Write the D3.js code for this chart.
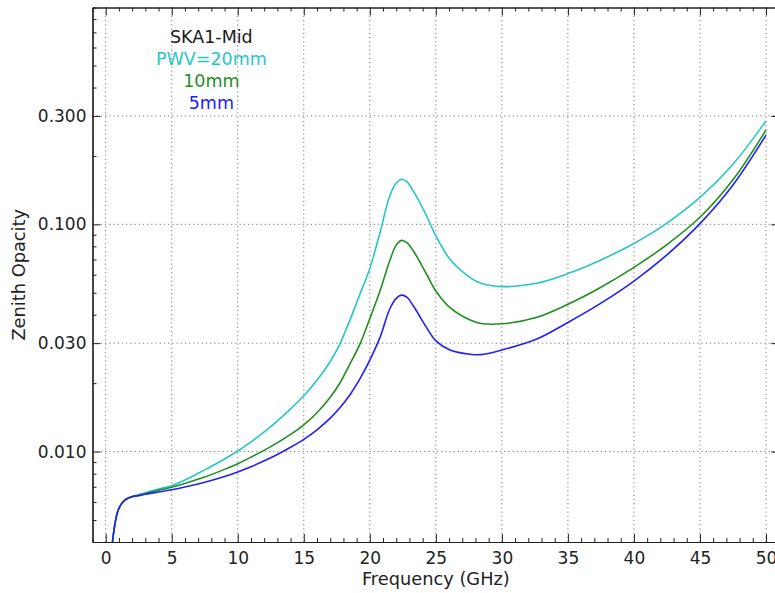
<!DOCTYPE html>
<html lang="en">
<head>
    <meta charset="utf-8">
    <title>Zenith Opacity</title>
    <script src="https://d3js.org/d3.v7.min.js"></script>
    <style>
        body { margin: 0; background: #fff; }
        text { font-family: "DejaVu Sans", sans-serif; }
    </style>
</head>
<body>
    <div id="my_dataviz"></div>
    <script>
        // frequency grid (GHz) shared by the three curves
        const freq = [0.45, 0.5, 0.6, 0.7, 0.85, 1.05, 1.3, 1.6, 2.1, 2.5, 3, 4, 5, 6, 7.5, 9, 10, 11, 12.5, 14, 15, 16, 17,
            17.7, 18.5, 19.26, 20, 20.77, 21.5, 22, 22.4, 22.8, 23.3, 24.3, 25, 26.07, 27.6, 28.4, 30, 32.6, 35,
            37.5, 40, 42.5, 45, 47.5, 50];

        // zenith opacity for PWV = 20, 10, 5 mm
        const pwv20 = [0.0030, 0.0039, 0.0044, 0.0048, 0.0053, 0.0057, 0.0060, 0.0062, 0.00637, 0.00646, 0.00659, 0.00684, 0.00708, 0.00749, 0.00831, 0.00928, 0.01006, 0.01103, 0.01288, 0.01542, 0.01762, 0.0206, 0.0249,
            0.0295, 0.0380, 0.0495, 0.0640, 0.0919, 0.1330, 0.1520, 0.1580, 0.1540, 0.1400, 0.1088, 0.0889, 0.0702, 0.0583, 0.0550, 0.0532, 0.0550, 0.0607,
            0.0697, 0.0824, 0.1013, 0.1313, 0.184, 0.285];
        const pwv10 = [0.0030, 0.0039, 0.0044, 0.0048, 0.0053, 0.0057, 0.0060, 0.0062, 0.00636, 0.00642, 0.00654, 0.00675, 0.00696, 0.00724, 0.00773, 0.00835, 0.00884, 0.00945, 0.01052, 0.01191, 0.01312, 0.01483, 0.01734,
            0.01988, 0.02434, 0.0298, 0.0385, 0.0509, 0.0690, 0.0810, 0.0850, 0.0830, 0.0763, 0.0603, 0.0509, 0.0430, 0.0379, 0.0366, 0.0365, 0.0389, 0.0445,
            0.0529, 0.0647, 0.0815, 0.1074, 0.157, 0.260];
        const pwv5 = [0.0030, 0.0039, 0.0044, 0.0048, 0.0053, 0.0057, 0.0060, 0.0062, 0.00635, 0.0064, 0.00649, 0.00664, 0.00679, 0.00698, 0.00733, 0.00777, 0.00814, 0.00858, 0.00939, 0.01045, 0.01132, 0.01247, 0.01403,
            0.0155, 0.0178, 0.02094, 0.02527, 0.0318, 0.0423, 0.0472, 0.0488, 0.0478, 0.0437, 0.0351, 0.0307, 0.0280, 0.0268, 0.0267, 0.0280, 0.0312, 0.0370,
            0.0450, 0.0563, 0.0734, 0.1007, 0.149, 0.247];

        const xTicks = [0, 5, 10, 15, 20, 25, 30, 35, 40, 45, 50];
        const yTicks = [0.01, 0.03, 0.1, 0.3];
        const labels = ["SKA1-Mid", "PWV=20mm", "10mm", "5mm"];
        const labelColors = ["#1a1a1a", "#26c6c6", "#1f8f1f", "#2020ff"];

        const series = [
            { v: pwv20, color: "#26c6c6" },
            { v: pwv10, color: "#1f8f1f" },
            { v: pwv5, color: "#2020ff" }
        ];

        const W = 775, H = 593;
        const mLeft = 92.5, mTop = 7.5, mRight = 779.2, mBottom = 542;

        const svg = d3.select("#my_dataviz")
            .append("svg")
            .attr("width", W)
            .attr("height", H);

        const x = d3.scaleLinear().domain([-1, 51]).range([mLeft, mRight]);
        const y = d3.scaleLog().domain([0.004, 0.9]).range([mBottom, mTop]);

        // minor tick values
        const xMinor = d3.range(-1, 52, 1).filter(d => d % 5 !== 0);
        const yMinor = [];
        [0.001, 0.01, 0.1].forEach(p => {
            for (let k = 2; k <= 9; k++) {
                const v = +(k * p).toPrecision(3);
                if (v >= 0.004 && v <= 0.9 && !yTicks.includes(v)) yMinor.push(v);
            }
        });

        svg.append("defs").append("clipPath").attr("id", "clip")
            .append("rect")
            .attr("x", mLeft).attr("y", mTop)
            .attr("width", mRight - mLeft).attr("height", mBottom - mTop);

        // dotted grid
        const grid = svg.append("g").attr("stroke", "#777").attr("stroke-width", 1)
            .attr("stroke-dasharray", "1.2,3");
        grid.selectAll(".gx").data(xTicks).join("line")
            .attr("x1", d => x(d)).attr("x2", d => x(d))
            .attr("y1", mTop).attr("y2", mBottom);
        grid.selectAll(".gy").data(yTicks).join("line")
            .attr("x1", mLeft).attr("x2", mRight)
            .attr("y1", d => y(d)).attr("y2", d => y(d));

        // curves
        const line = d3.line()
            .x(d => x(d[0]))
            .y(d => y(d[1]))
            .curve(d3.curveCatmullRom.alpha(0.5));

        svg.append("g").attr("clip-path", "url(#clip)")
            .selectAll("path").data(series).join("path")
            .attr("d", s => line(freq.map((f, i) => [f, s.v[i]])))
            .attr("fill", "none")
            .attr("stroke", s => s.color)
            .attr("stroke-width", 1.6);

        // axes with inward ticks
        function styleAxis(g) {
            g.selectAll("text").attr("font-size", 17).attr("fill", "#222")
                .attr("font-family", "DejaVu Sans");
            g.selectAll("line").attr("stroke", "#222");
            g.select(".domain").attr("stroke", "#222").attr("stroke-width", 1.2);
        }

        svg.append("g").attr("transform", `translate(0,${mBottom})`)
            .call(d3.axisBottom(x).tickValues(xTicks).tickSize(-8).tickSizeOuter(0).tickPadding(10))
            .call(styleAxis);
        svg.append("g").attr("transform", `translate(0,${mBottom})`)
            .call(d3.axisBottom(x).tickValues(xMinor).tickSize(-4).tickSizeOuter(0).tickFormat(""))
            .call(styleAxis);
        svg.append("g").attr("transform", `translate(0,${mTop})`)
            .call(d3.axisTop(x).tickValues(xTicks).tickSize(-8).tickSizeOuter(0).tickFormat(""))
            .call(styleAxis);
        svg.append("g").attr("transform", `translate(0,${mTop})`)
            .call(d3.axisTop(x).tickValues(xMinor).tickSize(-4).tickSizeOuter(0).tickFormat(""))
            .call(styleAxis);

        svg.append("g").attr("transform", `translate(${mLeft},0)`)
            .call(d3.axisLeft(y).tickValues(yTicks).tickSize(-8).tickSizeOuter(0).tickPadding(6)
                .tickFormat(d3.format(".3f")))
            .call(styleAxis);
        svg.append("g").attr("transform", `translate(${mLeft},0)`)
            .call(d3.axisLeft(y).tickValues(yMinor).tickSize(-4).tickSizeOuter(0).tickFormat(""))
            .call(styleAxis);
        svg.append("g").attr("transform", `translate(${mRight},0)`)
            .call(d3.axisRight(y).tickValues(yTicks).tickSize(-8).tickSizeOuter(0).tickFormat(""))
            .call(styleAxis);

        // axis titles
        svg.append("text")
            .attr("x", (mLeft + mRight) / 2)
            .attr("y", 585)
            .attr("text-anchor", "middle")
            .attr("font-size", 17.8)
            .attr("fill", "#222")
            .text("Frequency (GHz)");
        svg.append("text")
            .attr("transform", `translate(25,${(mTop + mBottom) / 2}) rotate(-90)`)
            .attr("text-anchor", "middle")
            .attr("font-size", 17.8)
            .attr("fill", "#222")
            .text("Zenith Opacity");

        // annotation
        svg.append("g").selectAll("text").data(labels).join("text")
            .attr("x", x(8))
            .attr("y", (d, i) => y(0.629) + i * 22)
            .attr("text-anchor", "middle")
            .attr("font-size", 17.5)
            .attr("fill", (d, i) => labelColors[i])
            .text(d => d);
    </script>
</body>
</html>
